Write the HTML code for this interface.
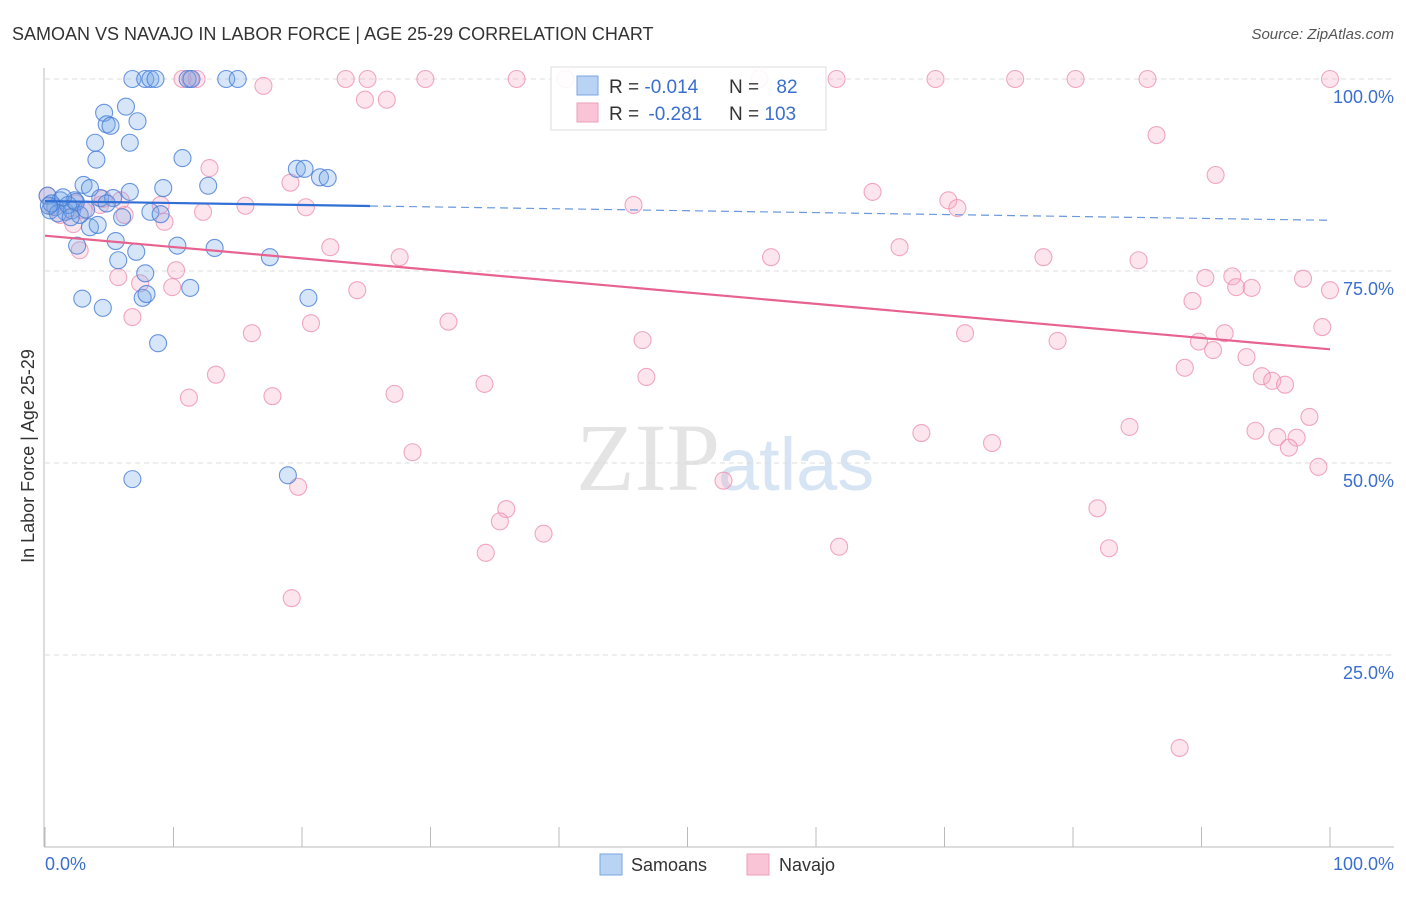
<!DOCTYPE html>
<html><head><meta charset="utf-8"><style>
body{margin:0;background:#fff;font-family:"Liberation Sans",sans-serif;}
</style></head><body>
<svg id="c" width="1406" height="892" xmlns="http://www.w3.org/2000/svg">
<text x="12" y="40" font-size="18" fill="#333">SAMOAN VS NAVAJO IN LABOR FORCE | AGE 25-29 CORRELATION CHART</text>
<text x="1394" y="39" font-size="15" fill="#555" text-anchor="end" font-style="italic">Source: ZipAtlas.com</text>
<text x="720" y="490" font-size="96" fill="#e4e4e4" text-anchor="end" font-family="Liberation Serif">ZIP</text>
<text x="718" y="490" font-size="74" fill="#d6e4f4">atlas</text>
<g id="grid"></g>
<g id="axes"></g>
<g id="pts"></g>
<g id="lines"></g>
<text transform="translate(34,456) rotate(-90)" font-size="18" fill="#333" text-anchor="middle">In Labor Force | Age 25-29</text>
<text x="45" y="870" font-size="18" fill="#3a6fd0">0.0%</text>
<text x="1394" y="870" font-size="18" fill="#3a6fd0" text-anchor="end">100.0%</text>
<g>
<rect x="551" y="67" width="275" height="63" fill="#fff" fill-opacity="0.9" stroke="#ddd"/>
<rect x="577" y="76" width="21" height="19" fill="#b8d3f4" stroke="#7aa6e0"/>
<rect x="577" y="103" width="21" height="19" fill="#f9c4d5" stroke="#ee9fba"/>
<text x="609" y="93" font-size="19" fill="#333">R = <tspan fill="#3a6fd0">-0.014</tspan></text>
<text x="729" y="93" font-size="19" fill="#333">N = <tspan fill="#3a6fd0" dx="12">82</tspan></text>
<text x="609" y="120" font-size="19" fill="#333">R = <tspan fill="#3a6fd0" dx="4">-0.281</tspan></text>
<text x="729" y="120" font-size="19" fill="#333">N = <tspan fill="#3a6fd0">103</tspan></text>
</g>
<g>
<rect x="600" y="854" width="22" height="21" fill="#b8d3f4" stroke="#7aa6e0"/>
<text x="631" y="871" font-size="18" fill="#333">Samoans</text>
<rect x="747" y="854" width="22" height="21" fill="#f9c4d5" stroke="#ee9fba"/>
<text x="779" y="871" font-size="18" fill="#333">Navajo</text>
</g>
</svg>
<script>
const yTicks=[25,50,75,100];
const yTickLabels=["25.0%","50.0%","75.0%","100.0%"];
const xTicks=[0,10,20,30,40,50,60,70,80,90,100];
const samoanX=[6.8,7.8,8.2,8.6,11.1,11.4,14.1,15.0,6.3,4.6,4.8,5.1,7.2,3.9,6.6,4.0,10.7,19.6,20.2,21.4,22.0,12.7,9.2,6.6,3.0,3.5,0.2,1.2,2.3,4.3,5.3,0.8,1.6,2.1,2.7,0.4,8.2,9.0,6.0,3.5,4.1,5.5,10.3,7.1,13.2,2.5,5.7,17.5,7.8,11.3,2.9,7.6,7.9,20.5,4.5,8.8,18.9,6.8,0.5,1.0,1.8,2.4,3.2,0.3,1.4,2.0,4.8];
const samoanY=[100,100,100,100,100,100,100,100,96.4,95.6,94.1,93.9,94.5,91.7,91.7,89.5,89.7,88.3,88.3,87.2,87.1,86.1,85.8,85.3,86.2,85.8,84.8,84.2,84.2,84.5,84.5,83.3,82.7,82.9,82.3,82.9,82.7,82.4,82.0,80.7,81.0,78.9,78.3,77.5,78.0,78.3,76.4,76.8,74.7,72.8,71.4,71.5,72.0,71.5,70.2,65.6,48.4,47.9,83.8,82.5,83.6,84.0,83.0,83.5,84.6,82.0,83.8];
const navajoX=[10.7,11.3,11.8,17.0,23.4,25.1,29.6,36.7,40.5,55.6,61.6,69.3,75.5,80.2,85.8,100,24.9,26.6,86.5,12.8,19.1,91.1,64.4,70.3,71.0,45.8,20.3,15.6,12.3,9.0,6.2,4.3,9.3,2.2,2.7,22.2,66.5,27.6,56.5,77.7,85.1,10.2,5.7,7.4,9.9,24.3,90.3,92.4,92.7,93.9,97.9,100,89.3,6.8,20.7,31.4,16.1,46.5,71.6,78.8,89.8,91.8,90.9,99.4,93.5,88.7,13.3,46.8,94.7,95.5,96.5,34.2,11.2,17.7,27.2,98.4,84.4,68.2,94.2,95.9,97.4,73.7,96.8,28.6,99.1,52.8,19.7,35.9,35.4,81.9,38.8,34.3,61.8,82.8,19.2,88.3,0.2,1.2,0.6,4.5,3.0,2.4,5.9];
const navajoY=[100,100,100,99.1,100,100,100,100,100,100,100,100,100,100,100,100,97.3,97.3,92.7,88.4,86.5,87.5,85.3,84.2,83.2,83.6,83.3,83.5,82.7,83.6,82.3,83.6,81.4,81.1,77.7,78.1,78.1,76.8,76.8,76.8,76.4,75.1,74.2,73.4,72.9,72.5,74.1,74.3,72.9,72.8,74.0,72.5,71.1,69.0,68.2,68.4,66.9,66.0,66.9,65.9,65.8,66.9,64.7,67.7,63.8,62.4,61.5,61.2,61.3,60.7,60.2,60.3,58.5,58.7,59.0,56.0,54.7,53.9,54.2,53.4,53.3,52.6,52.0,51.4,49.5,47.7,46.9,44.0,42.4,44.1,40.8,38.3,39.1,38.9,32.4,12.9,84.8,82.3,83.4,84.4,82.9,83.8,84.2];
const samoanTrend=[84.1,81.6];
const navajoTrend=[79.6,64.8];
const samoanSolidEnd=25.3;
const NS="http://www.w3.org/2000/svg";
const xs=v=>45+v*12.85, ys=v=>847-v*7.68;
function mk(t,a,p){const e=document.createElementNS(NS,t);for(const k in a)e.setAttribute(k,a[k]);p.appendChild(e);return e;}
const grid=document.getElementById('grid'),axes=document.getElementById('axes'),pts=document.getElementById('pts'),lines=document.getElementById('lines');
yTicks.forEach((t,i)=>{
 const g=mk('line',{x1:45,x2:1394,y1:ys(t),y2:ys(t),stroke:'#ddd','stroke-dasharray':'5,4'},grid);
 
 
 const l=mk('text',{x:1394,y:ys(t)+24,'font-size':18,fill:'#3a6fd0','text-anchor':'end'},grid);
 l.textContent=yTickLabels[i];
 
 
});
const ya=mk('line',{x1:44,x2:44,y1:68,y2:847,stroke:'#bbb'},axes);


const xa=mk('line',{x1:44,x2:1394,y1:847,y2:847,stroke:'#bbb'},axes);


xTicks.forEach(t=>{
 const k=mk('line',{x1:xs(t),x2:xs(t),y1:827,y2:847,stroke:'#bbb'},axes);
 
 
});
function dots(X,Y,fill,stroke,name){X.forEach((x,i)=>{
 const c=mk('circle',{cx:xs(x),cy:ys(Y[i]),r:8.5,fill:fill,stroke:stroke,'stroke-width':1.1},pts);
 
 
});}
dots(navajoX,navajoY,'rgba(246,170,196,0.3)','rgba(236,140,175,0.75)','navajo-point');
dots(samoanX,samoanY,'rgba(120,170,232,0.3)','rgba(70,125,215,0.8)','samoan-point');
const at=(tr,x)=>tr[0]+(tr[1]-tr[0])*x/100;
const b1=mk('line',{x1:xs(0),y1:ys(samoanTrend[0]),x2:xs(samoanSolidEnd),y2:ys(at(samoanTrend,samoanSolidEnd)),stroke:'#2f6fd6','stroke-width':2.2},lines);


const b2=mk('line',{x1:xs(samoanSolidEnd),y1:ys(at(samoanTrend,samoanSolidEnd)),x2:xs(100),y2:ys(samoanTrend[1]),stroke:'#6a98dc','stroke-width':1.2,'stroke-dasharray':'8,5'},lines);


const p1=mk('line',{x1:xs(0),y1:ys(navajoTrend[0]),x2:xs(100),y2:ys(navajoTrend[1]),stroke:'#e8628f','stroke-width':2.2},lines);


</script>
</body></html>
